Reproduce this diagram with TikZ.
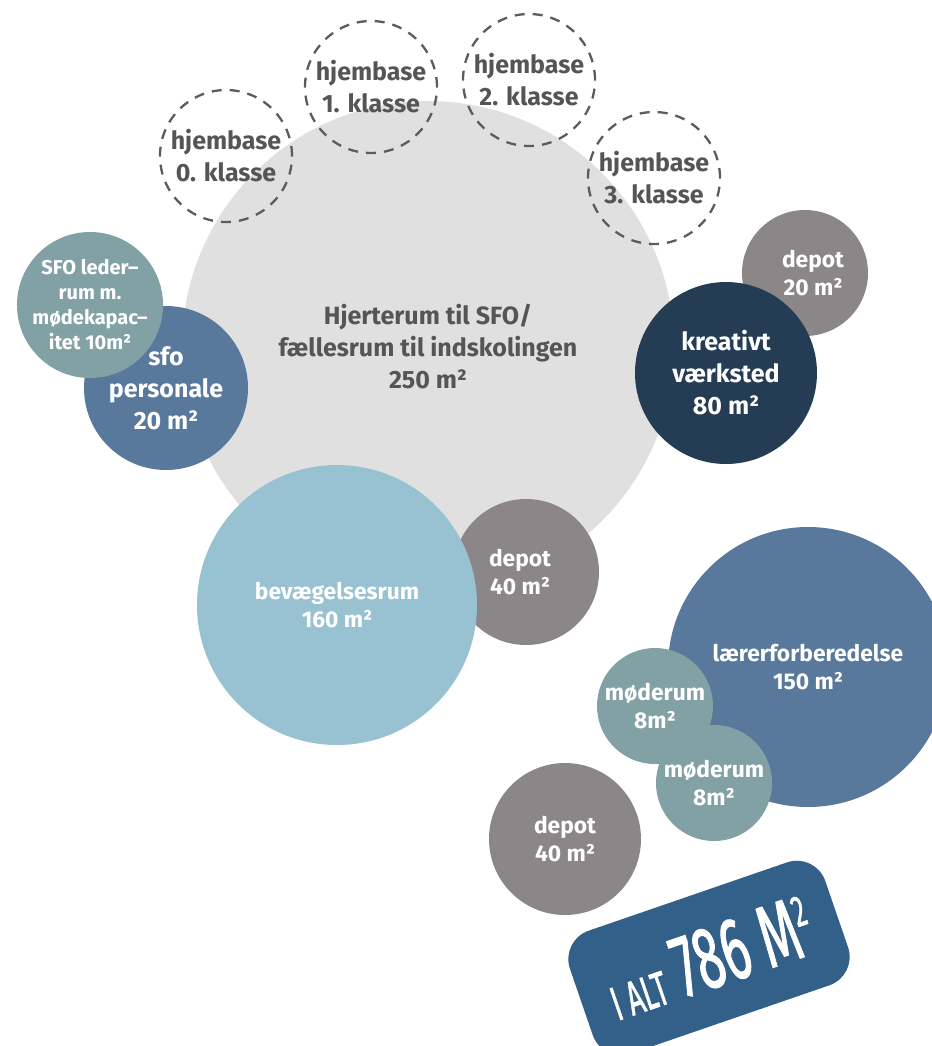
\documentclass[tikz,border=0pt]{standalone}
\usepackage{fontspec}
\setmainfont{Fira Sans}
\newfontfamily\boxfont[FakeBold=1.5]{Fira Sans}
\usetikzlibrary{positioning}

\definecolor{hjertegrey}{HTML}{E0E0E0}
\definecolor{dashgrey}{HTML}{5C5C5C}
\definecolor{textgrey}{HTML}{555555}
\definecolor{sfoblue}{HTML}{58799B}
\definecolor{teal}{HTML}{82A1A4}
\definecolor{navy}{HTML}{243C54}
\definecolor{depotgrey}{HTML}{8B8788}
\definecolor{lightblue}{HTML}{98C2D1}
\definecolor{boxblue}{HTML}{336089}

\newcommand{\bigfont}{\fontsize{12.5}{16}\selectfont\bfseries}
\newcommand{\midfont}{\fontsize{11.4}{13.8}\selectfont\bfseries}
\newcommand{\smallfont}{\fontsize{10}{12.5}\selectfont\bfseries}

\begin{document}
\begin{tikzpicture}[x=0.5pt, y=-0.5pt,
    room/.style={circle, inner sep=0pt, align=center, text=white},
    homebase/.style={circle, inner sep=0pt, align=center, draw=dashgrey,
      line width=1.15pt, dash pattern=on 5pt off 4pt, text=textgrey,
      font=\bigfont, minimum size=66pt},
    total/.style={rectangle, rounded corners=15pt, fill=boxblue, text=white,
      inner sep=0pt}]
  \useasboundingbox (0,0) rectangle (932,1046);

  % hjerterum
  \node[room, fill=hjertegrey, text=textgrey, font=\bigfont, minimum size=246pt]
    (hjerte) at (428,347) {Hjerterum til SFO/\\fællesrum til indskolingen\\250 m²};

  % hjembaser
  \node[homebase] (base0) at (226,156) {hjembase\\0. klasse};
  \node[homebase] (base1) at (371,87) {hjembase\\1. klasse};
  \node[homebase] (base2) at (529,80) {hjembase\\2. klasse};
  \node[homebase] (base3) at (654,178) {hjembase\\3. klasse};

  % sfo
  \node[room, fill=sfoblue, font=\bigfont, minimum size=82pt]
    (personale) at (166,388) {sfo\\personale\\20 m²};
  \node[room, fill=teal, font=\smallfont, minimum size=72pt]
    (leder) at (90,305) {SFO leder--\\rum m.\\mødekapac--\\itet 10m²};

  % kreativt
  \node[room, fill=depotgrey, font=\midfont, minimum size=63pt]
    (depotA) at (805,273) {\hspace*{8pt}depot\\\hspace*{8pt}20 m²};
  \node[room, fill=navy, font=\bigfont, minimum size=91pt]
    (kreativt) at (726,373) {kreativt\\værksted\\80 m²};

  % bevaegelse
  \node[room, fill=depotgrey, font=\midfont, minimum size=73pt]
    (depotB) at (526,572) {depot\hspace*{6pt}\\40 m²\hspace*{6pt}};
  \node[room, fill=lightblue, font=\midfont, minimum size=140pt]
    (bevaeg) at (337,605) {bevægelsesrum\\160 m²};

  % laererforberedelse
  \node[room, fill=sfoblue, font=\midfont, minimum size=140pt]
    (laerer) at (808,667) {lærerforberedelse\\150 m²};
  \node[room, fill=teal, font=\midfont, minimum size=58pt]
    (mode1) at (655,706) {møderum\\8m²};
  \node[room, fill=teal, font=\midfont, minimum size=58pt]
    (mode2) at (714,783) {møderum\\8m²};
  \node[room, fill=depotgrey, font=\midfont, minimum size=76pt]
    (depotC) at (565,839) {depot\\40 m²};

  % i alt
  \node[total, rotate=19, minimum width=135pt, minimum height=65pt]
    (ialt) at (709,958) {\scalebox{0.58}[1]{\boxfont\fontsize{24}{24}\selectfont I ALT\hspace{11pt}%
      \fontsize{44}{44}\selectfont 786 M\raisebox{15pt}{\fontsize{22}{22}\selectfont 2}}};
\end{tikzpicture}
\end{document}
